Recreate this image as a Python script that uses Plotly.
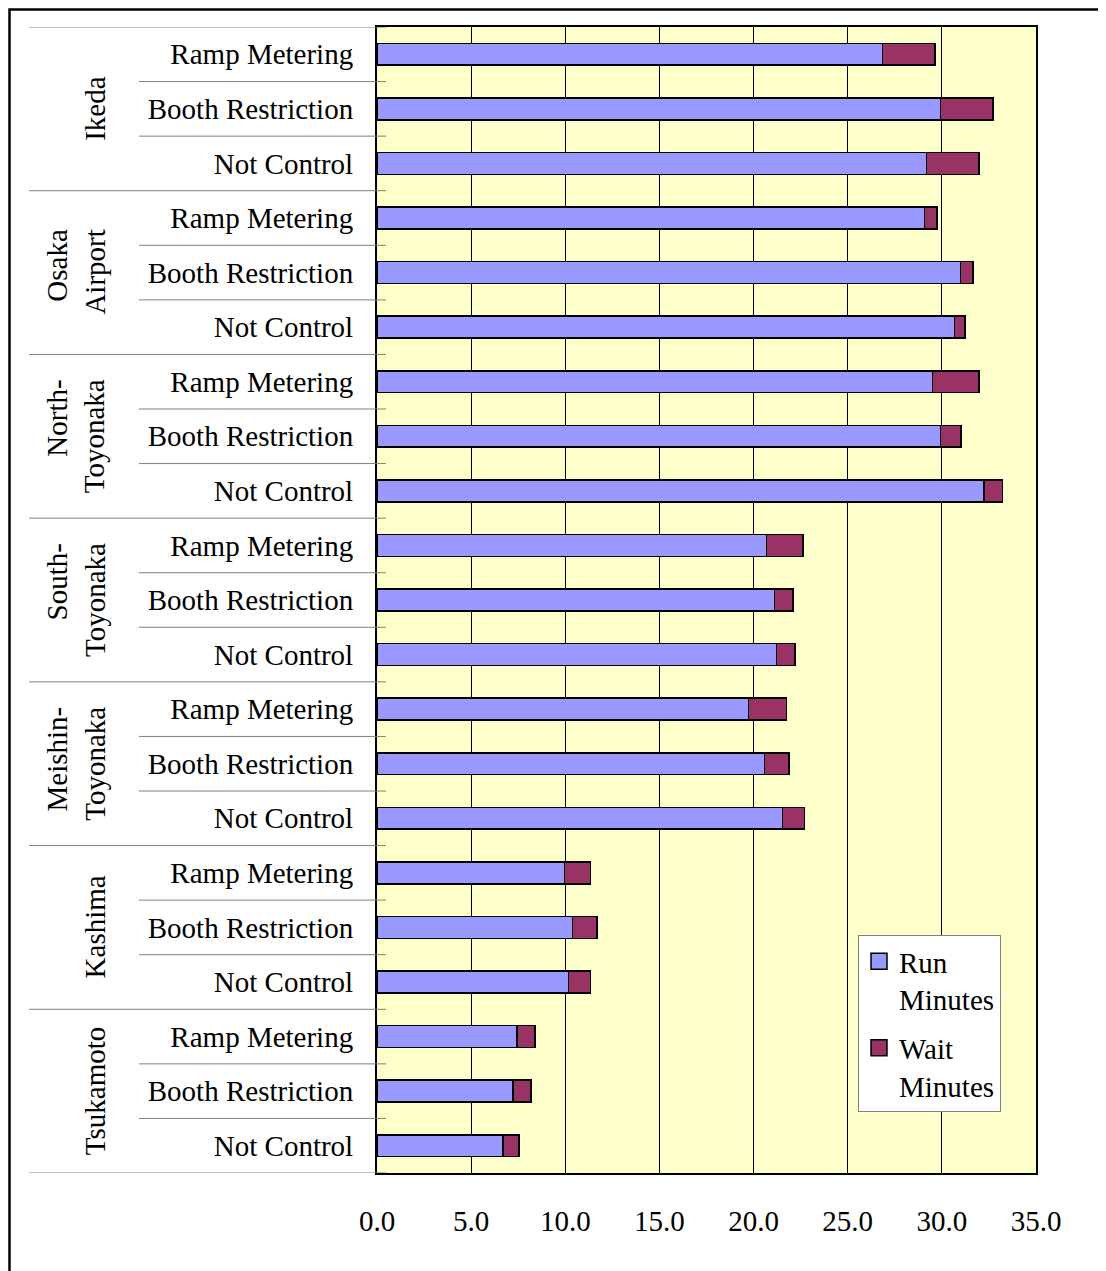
import plotly.graph_objects as go

# ---- data (top-to-bottom order) ----
groups = ["Ikeda", "Osaka<br>Airport", "North-<br>Toyonaka", "South-<br>Toyonaka",
          "Meishin-<br>Toyonaka", "Kashima", "Tsukamoto"]
controls = ["Ramp Metering", "Booth Restriction", "Not Control"]

run_minutes = [
    26.85, 29.92, 29.19,   # Ikeda
    29.08, 31.00, 30.68,   # Osaka Airport
    29.51, 29.92, 32.25,   # North-Toyonaka
    20.69, 21.11, 21.22,   # South-Toyonaka
    19.73, 20.58, 21.54,   # Meishin-Toyonaka
    9.95, 10.38, 10.17,    # Kashima
    7.44, 7.23, 6.68,      # Tsukamoto
]
wait_minutes = [
    2.78, 2.79, 2.78,
    0.66, 0.65, 0.55,
    2.46, 1.09, 0.98,
    1.93, 0.98, 0.97,
    2.02, 1.29, 1.17,
    1.40, 1.31, 1.18,
    0.94, 0.95, 0.86,
]
x_ticks = [0, 5, 10, 15, 20, 25, 30, 35]
series_names = ["Run<br>Minutes", "Wait<br>Minutes"]
series_colors = ["#9999FF", "#993366"]

FONT = "Liberation Serif"
OFF = 8  # page body margin
W, H = 1106 - OFF, 1271 - OFF
L, R, T, B = 377 - OFF, 70, 27 - OFF, 98
PW, PH = W - L - R, H - T - B

def px_x(p):
    return (p - OFF - L) / PW

def px_y(p):
    return (H - B - (p - OFF)) / PH

labels = [c for g in groups for c in controls]
pos = list(range(len(labels)))

fig = go.Figure()
for vals, name, col in zip([run_minutes, wait_minutes], series_names, series_colors):
    fig.add_trace(go.Bar(
        y=pos, x=vals, orientation="h", name=name, showlegend=False,
        marker=dict(color=col, line=dict(color="black", width=1.5)), width=0.4,
    ))
# legend entries (square swatches)
for i, (name, col) in enumerate(zip(series_names, series_colors)):
    fig.add_trace(go.Scatter(
        x=[None], y=[None], mode="markers", name=name, legendgroup=f"g{i}",
        marker=dict(symbol="square", size=16, color=col, line=dict(color="black", width=1.5)),
    ))

shapes = []
n_groups = len(groups)
n_ctrl = len(controls)
for gi in range(n_groups + 1):
    yv = gi * n_ctrl - 0.5
    shapes.append(dict(type="line", xref="paper", yref="y", x0=px_x(29), x1=px_x(386),
                       y0=yv, y1=yv, line=dict(color="#808080", width=1)))
for gi in range(n_groups):
    for k in range(1, n_ctrl):
        yv = gi * n_ctrl + k - 0.5
        shapes.append(dict(type="line", xref="paper", yref="y", x0=px_x(139), x1=px_x(386),
                           y0=yv, y1=yv, line=dict(color="#808080", width=1)))
shapes.append(dict(type="path", xref="paper", yref="paper",
                   path=f"M {px_x(9.5)} {px_y(1290)} L {px_x(9.5)} {px_y(9.5)} L {px_x(1120)} {px_y(9.5)}",
                   line=dict(color="black", width=2.5)))

annotations = []
for gi, g in enumerate(groups):
    annotations.append(dict(
        x=px_x(113), xref="paper", xanchor="right",
        y=gi * n_ctrl + 1, yref="y", yanchor="middle",
        text=g, textangle=-90, showarrow=False, align="right",
        font=dict(family=FONT, size=29, color="black"),
    ))

fig.update_layout(
    width=W, height=H,
    margin=dict(l=L, r=R, t=T, b=B, pad=0),
    paper_bgcolor="white", plot_bgcolor="#FFFFCC",
    barmode="stack", bargap=0.6,
    font=dict(family=FONT, size=29, color="black"),
    shapes=shapes, annotations=annotations,
    legend=dict(
        x=px_x(858), y=px_y(935), xanchor="left", yanchor="top",
        bgcolor="white", bordercolor="#808080", borderwidth=1,
        traceorder="grouped", valign="top",
        font=dict(family=FONT, size=29, color="black"),
        tracegroupgap=8,
    ),
    showlegend=True,
)
fig.update_xaxes(
    range=[0, 35], tickvals=x_ticks, tickformat=".1f",
    showgrid=True, gridcolor="black", gridwidth=1,
    showline=True, linecolor="black", linewidth=2, mirror=True,
    ticks="", ticklabelstandoff=21, zeroline=False,
    tickfont=dict(family=FONT, size=29, color="black"),
)
fig.update_yaxes(
    range=[len(labels) - 0.5, -0.5], tickvals=pos, ticktext=labels,
    showgrid=False, showline=True, linecolor="black", linewidth=2, mirror=True,
    ticks="", ticklabelstandoff=16, zeroline=False,
    tickfont=dict(family=FONT, size=29, color="black"),
)

fig.write_html("out.html")
